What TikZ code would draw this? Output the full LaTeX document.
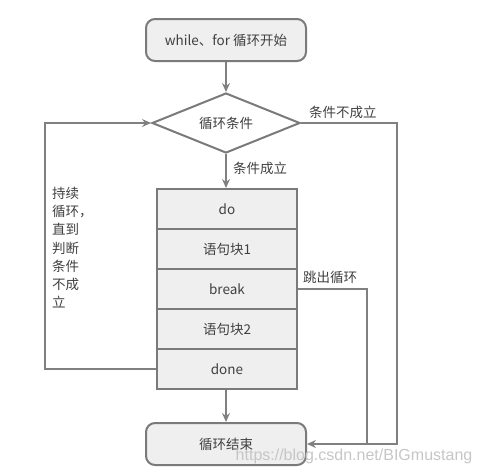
\documentclass[tikz,border=0pt]{standalone}
\usepackage{fontspec}
\setmainfont{Noto Sans CJK SC}
\newfontfamily\wmfont{Liberation Sans}
\usetikzlibrary{arrows.meta,shapes.geometric}
\definecolor{ln}{HTML}{808080}
\definecolor{bx}{HTML}{7A7A7A}
\definecolor{fillc}{HTML}{EFEFEF}
\definecolor{txt}{HTML}{404040}
\tikzset{
  base/.style={font=\fontsize{13.5}{16}\selectfont, text=txt, inner sep=0pt},
  term/.style={base, draw=bx, line width=2pt, fill=fillc, rounded corners=9pt, minimum width=160pt, minimum height=42pt},
  decide/.style={base, diamond, shape aspect=2.5, draw=bx, line width=2pt, fill=white, minimum width=148pt, minimum height=60pt},
  cell/.style={base, draw=bx, line width=2pt, fill=fillc, minimum width=140pt, minimum height=40pt},
  lbl/.style={base, anchor=west},
  arr/.style={draw=ln, line width=1.3pt, -{Stealth[length=9pt,width=8pt,inset=3pt]}},
  ln/.style={draw=ln, line width=1.3pt}
}
\begin{document}
\begin{tikzpicture}[x=1pt,y=-1pt]
\useasboundingbox (0,0) rectangle (478,471);
\node[term] (start) at (226,40) {while、for 循环开始};
\node[decide] (cond) at (226,123) {循环条件};
\node[cell] (do) at (227,209) {do};
\node[cell] (b1) at (227,249) {语句块1};
\node[cell] (brk) at (227,289) {break};
\node[cell] (b2) at (227,329) {语句块2};
\node[cell] (done) at (227,369) {done};
\node[term] (end) at (226,444) {循环结束};

\coordinate (r1) at (397,123);
\coordinate (r2) at (397,444);
\coordinate (k1) at (367,289);
\coordinate (k2) at (367,444);
\coordinate (l1) at (45,369);
\coordinate (l2) at (45,123);

\draw[arr] (start.south) -- (start.south |- cond.north);
\draw[arr] (cond.south) -- (cond.south |- do.north);
\draw[arr] (done.south -| end.north) -- (end.north);
\draw[arr] (cond.east) -- (r1) -- (r2) -- (end.east);
\draw[ln] (brk.east) -- (k1) -- (k2);
\draw[arr] (done.west) -- (l1) -- (l2) -- (cond.west);

\node[lbl] (t1) at (309,112) {条件不成立};
\node[lbl] (t2) at (233,168) {条件成立};
\node[lbl] (t3) at (303,277) {跳出循环};
\node[base, anchor=north west, align=left, font=\fontsize{13.5}{18.2}\selectfont] (t4) at (52,187) {持续\\循环，\\直到\\判断\\条件\\不成\\立};

\node[anchor=center, text=gray!45, font=\wmfont\fontsize{16}{18}\selectfont, inner sep=0pt] (wm) at (354,456) {https://blog.csdn.net/BIGmustang};
\end{tikzpicture}
\end{document}
